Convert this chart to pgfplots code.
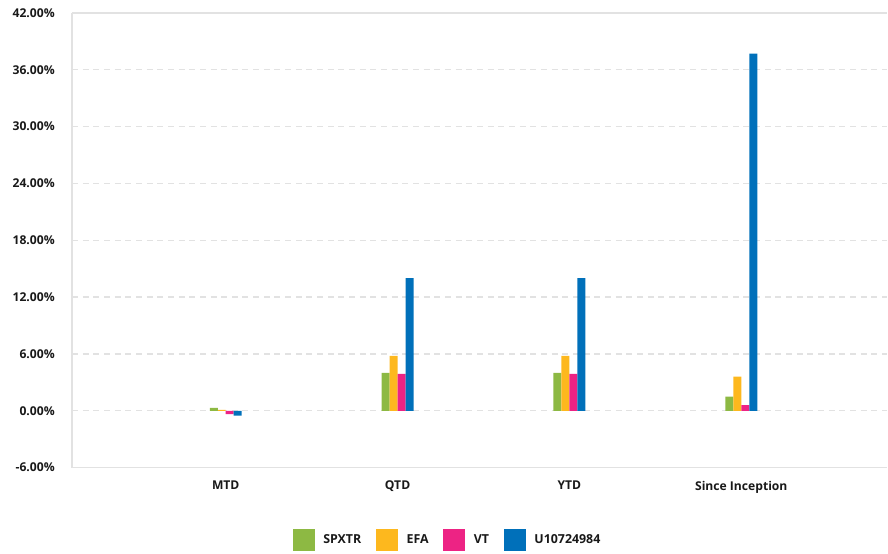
\documentclass[border=0pt]{standalone}
\usepackage{pgfplots}
\pgfplotsset{compat=1.18}
\usepackage{fontspec}
\setmainfont{Open Sans}
\definecolor{cgreen}{RGB}{141,185,67}
\definecolor{corange}{RGB}{253,184,30}
\definecolor{cpink}{RGB}{237,35,132}
\definecolor{cblue}{RGB}{0,112,186}
\definecolor{cgrid}{RGB}{226,226,226}
\definecolor{ctext}{RGB}{25,25,25}
\begin{document}
\begin{tikzpicture}
\path (-54pt,-63.75pt) rectangle (612pt,351pt);
\begin{axis}[
  at={(0,0)}, anchor=south west,
  scale only axis, width=612pt, height=341.25pt,
  ybar=0pt, bar width=6pt,
  xmin=-0.895, xmax=3.85,
  ymin=-6, ymax=42,
  xtick={0,1,2,3},
  xticklabels={MTD,QTD,YTD,Since Inception},
  ytick={-6,0,6,12,18,24,30,36},
  yticklabels={-6.00\%,0.00\%,6.00\%,12.00\%,18.00\%,24.00\%,30.00\%,36.00\%},
  extra y ticks={42},
  extra y tick labels={42.00\%},
  extra y tick style={grid=major, major grid style={solid, line width=1pt, cgrid}},
  ymajorgrids,
  major grid style={dash pattern=on 4.5pt off 3.5pt, line width=1pt, cgrid},
  major tick length=0pt,
  axis x line*=bottom, axis y line*=left,
  axis line style={cgrid, line width=1pt, -},
  tick label style={font=\fontsize{9.1}{11}\selectfont\bfseries, text=ctext},
  yticklabel style={inner sep=0pt, anchor=east, xshift=-12.75pt},
  xticklabel style={inner sep=0pt, anchor=north, yshift=-9.75pt},
  legend style={at={(0.461,-0.1586)}, anchor=center, draw=none, fill=none,
    legend columns=4, font=\fontsize{9.3}{11}\selectfont\bfseries, text=ctext,
    /tikz/every odd column/.append style={column sep=4.5pt},
    /tikz/every even column/.append style={column sep=9pt}},
  legend image code/.code={\fill[#1,draw=none] (0pt,-8.25pt) rectangle (16.5pt,8.25pt);},
  clip=false,
]
\addplot[fill=cgreen, draw=none] coordinates {(0,0.3) (1,4.0) (2,4.0) (3,1.5)};
\addplot[fill=corange, draw=none] coordinates {(0,0.1) (1,5.8) (2,5.8) (3,3.6)};
\addplot[fill=cpink, draw=none] coordinates {(0,-0.35) (1,3.9) (2,3.9) (3,0.6)};
\addplot[fill=cblue, draw=none] coordinates {(0,-0.5) (1,14.0) (2,14.0) (3,37.7)};
\legend{SPXTR,EFA,VT,U10724984}
\end{axis}
\end{tikzpicture}
\end{document}
